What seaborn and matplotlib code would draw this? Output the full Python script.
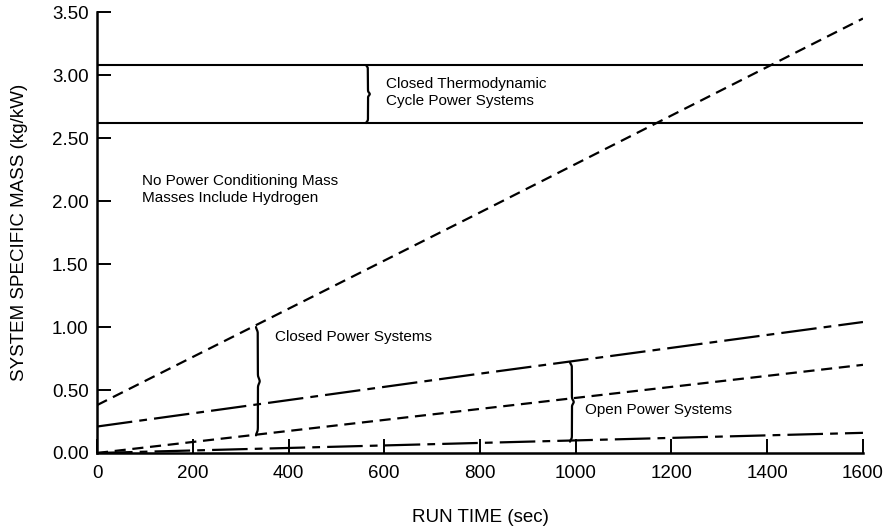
import numpy as np
import pandas as pd
import seaborn as sns
import matplotlib.pyplot as plt

# run time (sec) and specific mass (kg/kW)
run_time = [0, 800, 1600]
thermo_upper = [3.08, 3.08, 3.08]
thermo_lower = [2.62, 2.62, 2.62]
closed_upper = [0.38, 1.91, 3.45]
closed_lower = [0.21, 0.63, 1.04]
open_upper = [0.0, 0.35, 0.70]
open_lower = [0.0, 0.08, 0.16]

x_ticks = [0, 200, 400, 600, 800, 1000, 1200, 1400, 1600]
y_ticks = [0.0, 0.5, 1.0, 1.5, 2.0, 2.5, 3.0, 3.5]

sns.set_theme(style="white")
plt.rcParams['font.family'] = ['Liberation Sans', 'DejaVu Sans']
plt.rcParams['text.color'] = 'black'
plt.rcParams['axes.labelcolor'] = 'black'

df = pd.DataFrame({
    "t": run_time * 6,
    "m": thermo_upper + thermo_lower + closed_upper + closed_lower + open_upper + open_lower,
    "s": sum([[n] * 3 for n in ["tu", "tl", "cu", "cl", "ou", "ol"]], []),
})

styles = {
    "tu": (None, 1.5),
    "tl": (None, 1.5),
    "cu": ((0, (5, 3.0)), 1.6),
    "cl": ((0, (16, 3.2, 3.5, 3.2)), 1.6),
    "ou": ((0, (5, 3.0)), 1.6),
    "ol": ((0, (16, 3.2, 3.5, 3.2)), 1.6),
}

fig = plt.figure(figsize=(8.86, 5.26), dpi=100)
ax = fig.add_axes([0.1095, 0.1388, 0.8645, 0.838])

for name, (ls, lw) in styles.items():
    sub = df[df["s"] == name]
    sns.lineplot(data=sub, x="t", y="m", ax=ax, color="black", lw=lw, legend=False)
    if ls is not None:
        ax.lines[-1].set_linestyle(ls)

ax.set_xlim(0, 1600)
ax.set_ylim(0, 3.5)
ax.set_xticks(x_ticks)
ax.set_xticklabels([str(v) for v in x_ticks])
ax.set_yticks(y_ticks)
ax.set_yticklabels([f"{v:.2f}" for v in y_ticks])
ax.tick_params(direction="in", length=10, width=1.4, colors="black",
               labelsize=13.5, left=True, bottom=True, pad=6)
ax.tick_params(axis="x", pad=9)
for side in ["top", "right"]:
    ax.spines[side].set_visible(False)
for side in ["left", "bottom"]:
    ax.spines[side].set_color("black")
    ax.spines[side].set_linewidth(1.8)

ax.set_xlabel("RUN TIME (sec)", fontsize=13.5, labelpad=19)
ax.set_ylabel("SYSTEM SPECIFIC MASS (kg/kW)", fontsize=13.5, labelpad=17)


def brace(ax, x, y0, y1, width=7):
    # vertical curly brace with its point to the right
    s = np.linspace(-1, 1, 400)
    tip = 1 / (1 + np.exp((np.abs(s) - 0.05) / 0.02))
    end = 1 / (1 + np.exp(((1 - np.abs(s)) - 0.05) / 0.02))
    xs = x + width * (0.6 * tip - 0.6 * end)
    ys = y0 + (s + 1) / 2 * (y1 - y0)
    ax.plot(xs, ys, color="black", lw=1.6)


brace(ax, 336, 0.14, 1.00)
brace(ax, 992, 0.09, 0.72)
brace(ax, 566, 2.62, 3.08)

ax.text(372, 0.92, "Closed Power Systems", fontsize=11, va="center")
ax.text(1020, 0.34, "Open Power Systems", fontsize=11, va="center")
ax.text(604, 2.86, "Closed Thermodynamic\nCycle Power Systems", fontsize=11,
        va="center", linespacing=1.3)
ax.text(94, 2.09, "No Power Conditioning Mass\nMasses Include Hydrogen", fontsize=11,
        va="center", linespacing=1.3)

fig.savefig("out.png", dpi=100)
